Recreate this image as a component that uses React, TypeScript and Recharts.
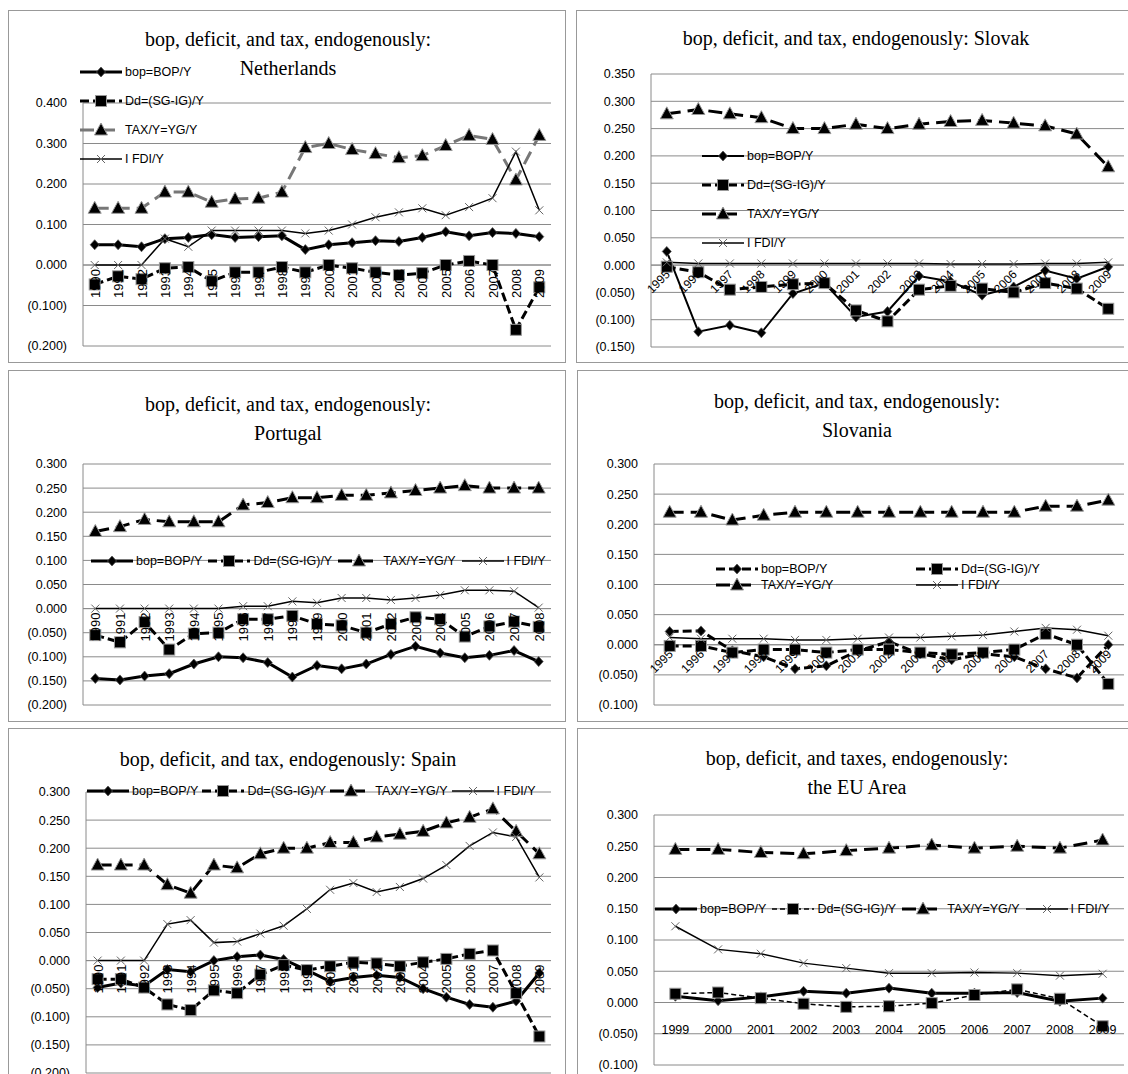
import React from 'react';
import { LineChart, Line, XAxis, YAxis, CartesianGrid, ReferenceLine } from 'recharts';

// ---- data ----
const yearsNL = ['1990','1991','1992','1993','1994','1995','1996','1997','1998','1999','2000','2001','2002','2003','2004','2005','2006','2007','2008','2009'];
const bopNL = [0.05,0.05,0.045,0.065,0.068,0.075,0.068,0.07,0.072,0.038,0.05,0.055,0.06,0.058,0.068,0.082,0.072,0.08,0.078,0.07];
const ddNL = [-0.048,-0.028,-0.035,-0.008,-0.005,-0.04,-0.018,-0.018,-0.005,-0.018,0,-0.008,-0.018,-0.025,-0.02,0,0.01,0,-0.16,-0.055];
const taxNL = [0.14,0.14,0.14,0.18,0.18,0.155,0.163,0.165,0.18,0.29,0.3,0.285,0.275,0.265,0.27,0.295,0.32,0.31,0.21,0.32];
const fdiNL = [0,0,0,0.065,0.045,0.085,0.085,0.085,0.085,0.078,0.085,0.1,0.118,0.13,0.14,0.123,0.143,0.165,0.28,0.135];

const yearsSK = ['1995','1996','1997','1998','1999','2000','2001','2002','2003','2004','2005','2006','2007','2008','2009'];
const bopSK = [0.025,-0.122,-0.11,-0.124,-0.052,-0.033,-0.095,-0.085,-0.02,-0.03,-0.055,-0.04,-0.01,-0.025,-0.003];
const ddSK = [-0.003,-0.013,-0.045,-0.04,-0.035,-0.033,-0.083,-0.103,-0.045,-0.038,-0.043,-0.05,-0.033,-0.043,-0.08];
const taxSK = [0.277,0.285,0.277,0.27,0.25,0.25,0.258,0.25,0.258,0.263,0.265,0.26,0.255,0.24,0.18];
const fdiSK = [0.005,0.003,0.003,0.003,0.003,0.003,0.003,0.003,0.003,0.002,0.002,0.002,0.003,0.003,0.005];

const yearsPT = ['1990','1991','1992','1993','1994','1995','1996','1997','1998','1999','2000','2001','2002','2003','2004','2005','2006','2007','2008'];
const bopPT = [-0.145,-0.148,-0.14,-0.135,-0.115,-0.1,-0.102,-0.112,-0.142,-0.118,-0.125,-0.115,-0.095,-0.078,-0.092,-0.102,-0.097,-0.087,-0.11];
const ddPT = [-0.055,-0.07,-0.028,-0.085,-0.052,-0.05,-0.022,-0.022,-0.015,-0.032,-0.035,-0.05,-0.032,-0.018,-0.022,-0.058,-0.037,-0.027,-0.038];
const taxPT = [0.16,0.17,0.185,0.18,0.18,0.18,0.215,0.22,0.23,0.23,0.235,0.235,0.24,0.245,0.25,0.255,0.25,0.25,0.25];
const fdiPT = [0,0,0,0,0,0,0.005,0.005,0.015,0.012,0.022,0.022,0.018,0.022,0.028,0.038,0.038,0.036,0.002];

const yearsSI = yearsSK;
const bopSI = [0.022,0.023,-0.01,-0.02,-0.04,-0.035,-0.01,0.005,-0.015,-0.025,-0.015,-0.02,-0.04,-0.055,0];
const ddSI = [-0.002,-0.002,-0.013,-0.008,-0.008,-0.013,-0.008,-0.008,-0.013,-0.016,-0.013,-0.008,0.018,0,-0.065];
const taxSI = [0.22,0.22,0.207,0.215,0.22,0.22,0.22,0.22,0.22,0.22,0.22,0.22,0.23,0.23,0.24];
const fdiSI = [0.012,0.01,0.01,0.01,0.008,0.008,0.01,0.012,0.012,0.014,0.016,0.022,0.028,0.025,0.015];

const yearsES = yearsNL;
const bopES = [-0.048,-0.04,-0.045,-0.016,-0.02,0,0.007,0.01,0.002,-0.017,-0.037,-0.03,-0.026,-0.03,-0.05,-0.065,-0.078,-0.083,-0.072,-0.022];
const ddES = [-0.033,-0.033,-0.048,-0.078,-0.088,-0.053,-0.058,-0.025,-0.008,-0.017,-0.01,-0.003,-0.005,-0.01,-0.003,0.003,0.012,0.018,-0.058,-0.135];
const taxES = [0.17,0.17,0.17,0.135,0.12,0.17,0.165,0.19,0.2,0.2,0.21,0.21,0.22,0.225,0.23,0.245,0.255,0.27,0.23,0.19];
const fdiES = [0,0,0,0.065,0.072,0.032,0.034,0.048,0.062,0.092,0.126,0.138,0.122,0.131,0.146,0.17,0.204,0.228,0.22,0.148];

const yearsEU = ['1999','2000','2001','2002','2003','2004','2005','2006','2007','2008','2009'];
const bopEU = [0.01,0.003,0.009,0.018,0.015,0.023,0.015,0.015,0.016,0.002,0.007];
const ddEU = [0.014,0.016,0.007,-0.002,-0.007,-0.006,-0.001,0.012,0.021,0.006,-0.038];
const taxEU = [0.245,0.245,0.24,0.238,0.243,0.247,0.252,0.247,0.25,0.247,0.26];
const fdiEU = [0.122,0.085,0.078,0.063,0.055,0.047,0.047,0.048,0.047,0.043,0.046];

const names = ['bop=BOP/Y', 'Dd=(SG-IG)/Y', 'TAX/Y=YG/Y', 'I FDI/Y'];

const fmt = (v: number) => (v < 0 ? `(${Math.abs(v).toFixed(3)})` : v.toFixed(3));
const mkTicks = (min: number, max: number, step: number) => {
  const out: number[] = [];
  for (let i = 0; min + i * step <= max + 1e-9; i++) out.push(+(min + i * step).toFixed(3));
  return out;
};

// ---- markers ----
type Shape = 'diamond' | 'square' | 'triangle' | 'x';
function marker(shape: Shape, cx: number, cy: number, key?: any) {
  if (shape === 'diamond')
    return <path key={key} d={`M${cx},${cy - 5}L${cx + 4.5},${cy}L${cx},${cy + 5}L${cx - 4.5},${cy}Z`} fill="#000" stroke="#555" strokeWidth={0.8} />;
  if (shape === 'square')
    return <rect key={key} x={cx - 5.5} y={cy - 5.5} width={11} height={11} fill="#000" stroke="#999" strokeWidth={1} />;
  if (shape === 'triangle')
    return <path key={key} d={`M${cx},${cy - 7}L${cx + 6.5},${cy + 5}L${cx - 6.5},${cy + 5}Z`} fill="#000" stroke="#999" strokeWidth={1} />;
  return (
    <g key={key} stroke="#666" strokeWidth={1}>
      <line x1={cx - 4} y1={cy - 4} x2={cx + 4} y2={cy + 4} />
      <line x1={cx - 4} y1={cy + 4} x2={cx + 4} y2={cy - 4} />
    </g>
  );
}

interface SeriesStyle { shape: Shape; color: string; width: number; dash?: string }

const baseStyles: SeriesStyle[] = [
  { shape: 'diamond', color: '#000', width: 3 },
  { shape: 'square', color: '#000', width: 3, dash: '9 4' },
  { shape: 'triangle', color: '#000', width: 3, dash: '14 7' },
  { shape: 'x', color: '#000', width: 1.5 },
];

function LegendItem({ s, name }: { s: SeriesStyle; name: string }) {
  return (
    <div style={{ display: 'flex', alignItems: 'center', whiteSpace: 'nowrap' }}>
      <svg width={42} height={14} style={{ overflow: 'visible' }}>
        <line x1={0} y1={7} x2={42} y2={7} stroke={s.color} strokeWidth={s.width} strokeDasharray={s.dash} />
        {marker(s.shape, 21, 7)}
      </svg>
      <span style={{ marginLeft: 3 }}>{name}</span>
    </div>
  );
}

interface PanelCfg {
  box: { left: number; top: number; w: number; h: number };
  plot: { left: number; top: number; bottom: number; right: number };
  domain: [number, number];
  step: number;
  title: string[];
  titleY: number;
  years: string[];
  series: number[][];
  styles: SeriesStyle[];
  tickMode: 'vertical' | 'diag' | 'flat';
  legend: { x: number; y: number; layout: 'col' | 'row' | 'grid'; gap?: number };
}

function Panel({ cfg }: { cfg: PanelCfg }) {
  const { box, plot, domain, step } = cfg;
  const data = cfg.years.map((y, i) => ({ year: y, s0: cfg.series[0][i], s1: cfg.series[1][i], s2: cfg.series[2][i], s3: cfg.series[3][i] }));
  const plotW = plot.right - plot.left;
  const plotH = plot.bottom - plot.top;
  const band = plotW / cfg.years.length;
  const zeroY = plot.top - box.top + (domain[1] / (domain[1] - domain[0])) * plotH;
  const chartW = plot.right - box.left;

  const Tick = (p: any) => {
    const x = p.x;
    const label = p.payload.value;
    if (cfg.tickMode === 'vertical')
      return <text x={x + 5} y={zeroY + 4} transform={`rotate(-90 ${x + 5} ${zeroY + 4})`} textAnchor="end" fontSize={13} fill="#000" fontFamily="Liberation Sans">{label}</text>;
    if (cfg.tickMode === 'diag')
      return <text x={x + 4} y={zeroY + 10} transform={`rotate(-45 ${x + 4} ${zeroY + 10})`} textAnchor="end" fontSize={12} fill="#000" fontFamily="Liberation Sans">{label}</text>;
    return <text x={x} y={zeroY + 31} textAnchor="middle" fontSize={12.5} fill="#000" fontFamily="Liberation Sans">{label}</text>;
  };

  return (
    <div style={{ position: 'absolute', left: box.left, top: box.top, width: box.w, height: box.h, border: '1.5px solid #999', boxSizing: 'border-box' }}>
      <div style={{ position: 'absolute', left: 0, width: 558, top: cfg.titleY - box.top - 14, textAlign: 'center', fontFamily: 'Liberation Serif', fontSize: 20, lineHeight: '29px', color: '#000' }}>
        {cfg.title.map((t, i) => <div key={i}>{t}</div>)}
      </div>
      <div style={{ position: 'absolute', left: -1.5, top: -1.5 }}>
        <LineChart width={chartW} height={box.h} data={data} margin={{ top: plot.top - box.top, bottom: box.h - (plot.bottom - box.top) - 2, left: 0, right: 0 }}>
          <CartesianGrid vertical={false} stroke="#8a8a8a" strokeWidth={1} />
          <XAxis dataKey="year" height={2} axisLine={false} tickLine={false} interval={0} tick={Tick} padding={{ left: band / 2, right: band / 2 }} />
          <YAxis width={plot.left - box.left} domain={domain} ticks={mkTicks(domain[0], domain[1], step)} tickFormatter={fmt} allowDataOverflow axisLine={{ stroke: '#8a8a8a' }} tickLine={false} tickMargin={10} tick={{ fontSize: 12.5, fill: '#000', fontFamily: 'Liberation Sans' }} interval={0} />
          <ReferenceLine y={0} stroke="#8a8a8a" />
          {[0, 1, 2, 3].map((k) => {
            const s = cfg.styles[k];
            return (
              <Line key={k} dataKey={`s${k}`} stroke={s.color} strokeWidth={s.width} strokeDasharray={s.dash} isAnimationActive={false}
                dot={(p: any) => marker(s.shape, p.cx, p.cy, `${k}-${p.index}`)} activeDot={false} />
            );
          })}
        </LineChart>
      </div>
      <div style={{
        position: 'absolute', left: cfg.legend.x - box.left, top: cfg.legend.y - box.top - 9, fontFamily: 'Liberation Sans', fontSize: 12.5,
        display: cfg.legend.layout === 'grid' ? 'grid' : 'flex',
        flexDirection: cfg.legend.layout === 'col' ? 'column' : 'row',
        gridTemplateColumns: cfg.legend.layout === 'grid' ? '200px 200px' : undefined,
        rowGap: cfg.legend.layout === 'col' ? (cfg.legend.gap ?? 12) : 2,
        columnGap: cfg.legend.gap ?? 8,
      }}>
        {names.map((n, i) => <LegendItem key={i} s={cfg.styles[i]} name={n} />)}
      </div>
    </div>
  );
}

const panels: PanelCfg[] = [
  {
    box: { left: 8, top: 10, w: 558, h: 353 }, plot: { left: 83, top: 103, bottom: 346, right: 551 }, domain: [-0.2, 0.4], step: 0.1,
    title: ['bop, deficit, and tax, endogenously:', 'Netherlands'], titleY: 38, years: yearsNL, series: [bopNL, ddNL, taxNL, fdiNL],
    styles: [baseStyles[0], baseStyles[1], { ...baseStyles[2], color: '#777' }, baseStyles[3]], tickMode: 'vertical',
    legend: { x: 79, y: 73, layout: 'col', gap: 15 },
  },
  {
    box: { left: 576, top: 10, w: 560, h: 353 }, plot: { left: 651, top: 74, bottom: 347, right: 1124 }, domain: [-0.15, 0.35], step: 0.05,
    title: ['bop, deficit, and tax, endogenously: Slovak'], titleY: 37, years: yearsSK, series: [bopSK, ddSK, taxSK, fdiSK],
    styles: [{ ...baseStyles[0], width: 2 }, baseStyles[1], baseStyles[2], baseStyles[3]], tickMode: 'diag',
    legend: { x: 701, y: 157, layout: 'col', gap: 15 },
  },
  {
    box: { left: 8, top: 370, w: 558, h: 352 }, plot: { left: 83, top: 464, bottom: 705, right: 551 }, domain: [-0.2, 0.3], step: 0.05,
    title: ['bop, deficit, and tax, endogenously:', 'Portugal'], titleY: 403, years: yearsPT, series: [bopPT, ddPT, taxPT, fdiPT],
    styles: baseStyles, tickMode: 'vertical', legend: { x: 90, y: 562, layout: 'row', gap: 6 },
  },
  {
    box: { left: 577, top: 370, w: 560, h: 352 }, plot: { left: 654, top: 464, bottom: 705, right: 1124 }, domain: [-0.1, 0.3], step: 0.05,
    title: ['bop, deficit, and tax, endogenously:', 'Slovania'], titleY: 400, years: yearsSI, series: [bopSI, ddSI, taxSI, fdiSI],
    styles: [{ ...baseStyles[0], dash: '9 4' }, baseStyles[1], baseStyles[2], baseStyles[3]], tickMode: 'diag',
    legend: { x: 715, y: 570, layout: 'grid', gap: 0 },
  },
  {
    box: { left: 8, top: 728, w: 558, h: 360 }, plot: { left: 86, top: 792, bottom: 1073, right: 551 }, domain: [-0.2, 0.3], step: 0.05,
    title: ['bop, deficit, and tax, endogenously: Spain'], titleY: 758, years: yearsES, series: [bopES, ddES, taxES, fdiES],
    styles: baseStyles, tickMode: 'vertical', legend: { x: 86, y: 792, layout: 'row', gap: 4 },
  },
  {
    box: { left: 577, top: 728, w: 560, h: 360 }, plot: { left: 654, top: 815, bottom: 1065, right: 1124 }, domain: [-0.1, 0.3], step: 0.05,
    title: ['bop, deficit, and taxes, endogenously:', 'the EU Area'], titleY: 757, years: yearsEU, series: [bopEU, ddEU, taxEU, fdiEU],
    styles: [baseStyles[0], { ...baseStyles[1], width: 1.5, dash: '5 3' }, baseStyles[2], baseStyles[3]], tickMode: 'flat',
    legend: { x: 654, y: 910, layout: 'row', gap: 6 },
  },
];

export default function App() {
  return (
    <div style={{ position: 'absolute', left: 0, top: 0, width: 1128, height: 1074, overflow: 'hidden', background: '#fff' }}>
      {panels.map((p, i) => <Panel key={i} cfg={p} />)}
    </div>
  );
}
